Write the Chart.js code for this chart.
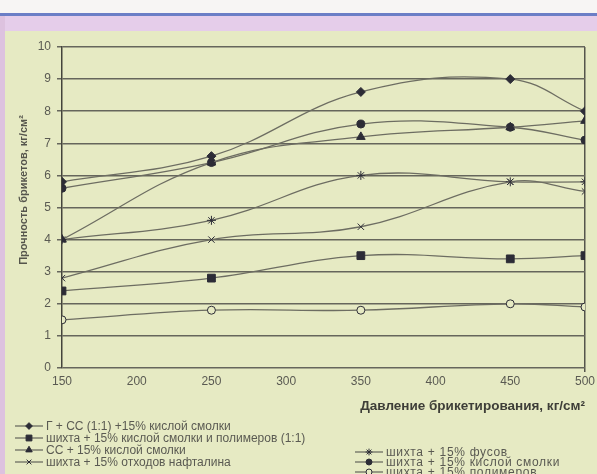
<!DOCTYPE html>
<html>
<head>
<meta charset="utf-8">
<script src="https://cdn.jsdelivr.net/npm/chart.js@4/dist/chart.umd.min.js"></script>
<style>
  body {
    margin: 0;
    width: 597px;
    height: 474px;
    overflow: hidden;
    position: relative;
    background: #e6eac3;
    font-family: "Liberation Sans", Arial, sans-serif;
  }
  #topBand { position: absolute; left: 0; top: 0; width: 597px; height: 13px; background: #f7f5f4; }
  #blueLine { position: absolute; left: 0; top: 13px; width: 597px; height: 3px; background: #6b7ec6; }
  #lavBand { position: absolute; left: 0; top: 16px; width: 597px; height: 15px; background: #e5cdea; }
  #leftStrip { position: absolute; left: 0; top: 16px; width: 5px; height: 458px; background: #ddc2df; }
  #wrap { position: absolute; left: 0; top: 0; width: 597px; height: 474px; }
  .legendCol { position: absolute; color: #5a5a52; font-size: 12px; white-space: nowrap; }
  .legendCol div { display: flex; align-items: center; }
  .legendCol canvas { margin-right: 2px; }
  #legendLeft { left: 14px; top: 420px; line-height: 12px; }
  #legendRight { left: 354px; top: 447px; line-height: 9px; letter-spacing: 0.7px; }
</style>
</head>
<body>
<div id="topBand"></div>
<div id="blueLine"></div>
<div id="lavBand"></div>
<div id="leftStrip"></div>
<div id="wrap"><canvas id="briquetteChart" width="597" height="474"></canvas></div>
<div id="legendLeft" class="legendCol"></div>
<div id="legendRight" class="legendCol"></div>

<script>
// pressure, kg/cm2
const pressure = [150, 250, 350, 450, 500];

// strength of briquettes, kg/cm2
const gSSResin = [5.8, 6.6, 8.6, 9.0, 8.0];
const chargeResinPolymers = [2.4, 2.8, 3.5, 3.4, 3.5];
const ssResin = [4.0, 6.4, 7.2, 7.5, 7.7];
const chargeNaphthalene = [2.8, 4.0, 4.4, 5.8, 5.5];
const chargeFusy = [4.0, 4.6, 6.0, 5.8, 5.8];
const chargeResin = [5.6, 6.4, 7.6, 7.5, 7.1];
const chargePolymers = [1.5, 1.8, 1.8, 2.0, 1.9];

const seriesNames = [
  "Г + СС (1:1) +15% кислой смолки",
  "шихта + 15% кислой смолки и полимеров (1:1)",
  "СС + 15% кислой смолки",
  "шихта + 15% отходов нафталина",
  "шихта + 15% фусов",
  "шихта + 15% кислой смолки",
  "шихта + 15% полимеров",
];

const yTitle = "Прочность брикетов, кг/см²";

const lineColor = "#6d6d62";
const markColor = "#2c2c36";
const bgColor = "#e6eac3";

function makeSet(label, values, style, radius, fill) {
  return {
    label: label,
    data: pressure.map((p, i) => ({ x: p, y: values[i] })),
    borderColor: lineColor,
    borderWidth: 1.3,
    tension: 0.4,
    pointStyle: style,
    pointRadius: radius,
    pointBackgroundColor: fill,
    pointBorderColor: markColor,
    pointBorderWidth: 1,
  };
}

const datasets = [
  makeSet(seriesNames[0], gSSResin, "rectRot", 4.5, markColor),
  makeSet(seriesNames[1], chargeResinPolymers, "rect", 5.5, markColor),
  makeSet(seriesNames[2], ssResin, "triangle", 5, markColor),
  makeSet(seriesNames[3], chargeNaphthalene, "crossRot", 4.5, markColor),
  makeSet(seriesNames[4], chargeFusy, "star", 4.5, markColor),
  makeSet(seriesNames[5], chargeResin, "circle", 4, markColor),
  makeSet(seriesNames[6], chargePolymers, "circle", 4, bgColor),
];

// y title sits a bit above the middle of the axis in the original
const yTitlePlugin = {
  id: "yTitle",
  afterDraw(chart) {
    const g = chart.ctx;
    g.save();
    g.translate(24, 190);
    g.rotate(-Math.PI / 2);
    g.fillStyle = "#55554c";
    g.font = "bold 11px 'Liberation Sans'";
    g.textAlign = "center";
    g.textBaseline = "middle";
    g.fillText(yTitle, 0, 0);
    g.restore();
  },
};

let ctx = document.getElementById("briquetteChart").getContext("2d");

let briquetteChart = new Chart(ctx, {
  type: "line",
  data: { datasets: datasets },
  plugins: [yTitlePlugin],
  options: {
    responsive: false,
    animation: false,
    layout: { padding: { top: 47, right: 9, left: 0, bottom: 0 } },
    plugins: {
      legend: { display: false },
      tooltip: { enabled: false },
    },
    scales: {
      x: {
        type: "linear",
        min: 150,
        max: 500,
        afterFit: (scale) => { scale.height = 106; },
        ticks: {
          stepSize: 50,
          color: "#5a5a52",
          font: { size: 12, family: "Liberation Sans" },
          padding: 2,
        },
        grid: {
          color: (c) => (c.tick && c.tick.value === 500 ? "#55554c" : "rgba(0,0,0,0)"),
          lineWidth: 1.5,
          tickLength: 4,
        },
        border: { display: false },
        title: {
          display: true,
          text: "Давление брикетирования, кг/см²",
          align: "end",
          color: "#3e3e38",
          font: { size: 13.5, weight: "bold", family: "Liberation Sans" },
          padding: { top: 0, bottom: 60 },
        },
      },
      y: {
        min: 0,
        max: 10,
        afterFit: (scale) => { scale.width = 62; },
        ticks: {
          stepSize: 1,
          color: "#5a5a52",
          font: { size: 12, family: "Liberation Sans" },
          padding: 6,
        },
        grid: {
          color: "#66665c",
          lineWidth: 1.5,
          tickLength: 5,
        },
        border: { color: "#44443c", width: 1.5 },
      },
    },
  },
});

// html legend in two columns, markers drawn with chart.js helpers
function legendItem(ds) {
  let row = document.createElement("div");
  let c = document.createElement("canvas");
  c.width = 30;
  c.height = 10;
  let g = c.getContext("2d");
  g.strokeStyle = lineColor;
  g.lineWidth = 1.3;
  g.beginPath();
  g.moveTo(1, 5);
  g.lineTo(29, 5);
  g.stroke();
  g.fillStyle = ds.pointBackgroundColor;
  g.strokeStyle = markColor;
  g.lineWidth = 1;
  if (Chart.helpers && Chart.helpers.drawPoint) {
    Chart.helpers.drawPoint(g, { pointStyle: ds.pointStyle, radius: ds.pointRadius * 0.75, borderWidth: 1 }, 15, 5);
  }
  row.appendChild(c);
  let t = document.createElement("span");
  t.textContent = ds.label;
  row.appendChild(t);
  return row;
}

let leftCol = document.getElementById("legendLeft");
let rightCol = document.getElementById("legendRight");
datasets.forEach((ds, i) => {
  (i < 4 ? leftCol : rightCol).appendChild(legendItem(ds));
});
</script>
</body>
</html>
